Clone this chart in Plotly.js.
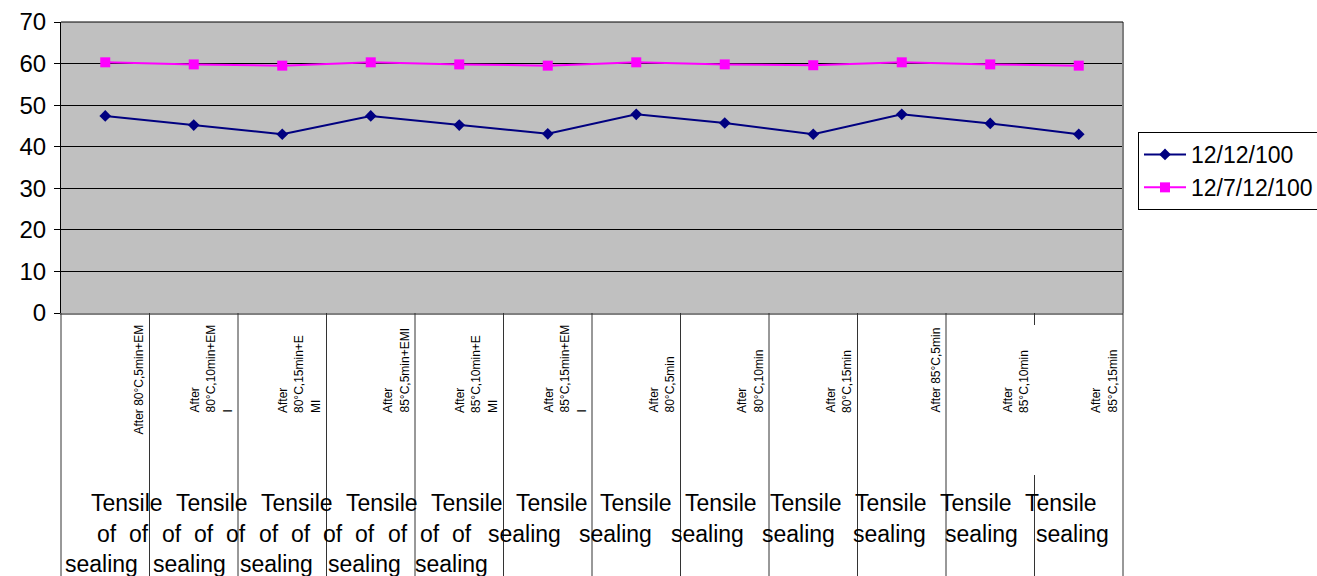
<!DOCTYPE html>
<html>
<head>
<meta charset="utf-8">
<script src="https://cdn.plot.ly/plotly-3.0.1.min.js"></script>
<style>html,body{margin:0;padding:0;background:#fff}#chart{width:1317px;height:576px}</style>
</head>
<body>
<div id="chart"></div>
<script>
// ---- data ----
const seriesNames = ["12/12/100", "12/7/12/100"];
const categoryLines = [
  ["After 80°C,5min+EM"],
  ["After", "80°C,10min+EM", "I"],
  ["After", "80°C,15min+E", "MI"],
  ["After", "85°C,5min+EMI"],
  ["After", "85°C,10min+E", "MI"],
  ["After", "85°C,15min+EM", "I"],
  ["After", "80°C,5min"],
  ["After", "80°C,10min"],
  ["After", "80°C,15min"],
  ["After 85°C,5min"],
  ["After", "85°C,10min"],
  ["After", "85°C,15min"]
];
const values1 = [47.4, 45.2, 43.0, 47.4, 45.2, 43.1, 47.8, 45.7, 43.0, 47.8, 45.6, 43.0];
const values2 = [60.3, 59.8, 59.5, 60.3, 59.8, 59.5, 60.3, 59.8, 59.6, 60.3, 59.8, 59.5];
const outerRow1 = ["Tensile","Tensile","Tensile","Tensile","Tensile","Tensile","Tensile","Tensile","Tensile","Tensile","Tensile","Tensile"];
const outerRow2a = ["of","of","of","of","of","of","of","of","of","of","of","of"];
const outerRow2b = ["sealing","sealing","sealing","sealing","sealing","sealing","sealing"];
const outerRow3 = ["sealing","sealing","sealing","sealing","sealing"];
const yTicks = [0, 10, 20, 30, 40, 50, 60, 70];

// ---- layout helpers ----
const W = 1317, H = 576, L = 61, R = 1123, T = 22, B = 313;
const fx = p => (p - L) / (R - L);
const fy = p => (B - p) / (B - T);
const catW = (R - L) / categoryLines.length;
const categories = categoryLines.map(l => l.join(" "));
const FONT = "Liberation Sans, Arial, Helvetica, sans-serif";

const traces = [
  {x: categories, y: values1, name: seriesNames[0], type: "scatter", mode: "lines+markers",
   line: {color: "#000080", width: 2}, marker: {symbol: "diamond", size: 9, color: "#000080"}},
  {x: categories, y: values2, name: seriesNames[1], type: "scatter", mode: "lines+markers",
   line: {color: "#FF00FF", width: 2}, marker: {symbol: "square", size: 10, color: "#FF00FF"}}
];

const annotations = [];
categoryLines.forEach((lines, i) => {
  const right = L + (i + 1) * catW;
  const n = lines.length;
  const bottom = (i === 0) ? 437 : 415;
  lines.forEach((t, j) => {
    annotations.push({xref: "paper", yref: "paper", x: fx(right - 11 - (n - 1 - j) * 16.5), y: fy(bottom),
      xanchor: "center", yanchor: "bottom", textangle: -90, text: t, showarrow: false,
      font: {family: FONT, size: 12, color: "#000"}});
  });
});
function row(words, start, step, cy) {
  words.forEach((w, k) => {
    annotations.push({xref: "paper", yref: "paper", x: fx(start + k * step), y: fy(cy),
      xanchor: "left", yanchor: "middle", text: w, showarrow: false,
      font: {family: FONT, size: 23, color: "#000"}});
  });
}
row(outerRow1, 89, 84.9, 503);
row(outerRow2a, 95, 32.3, 534);
row(outerRow2b, 486, 91.3, 534);
row(outerRow3, 63, 87.5, 564);

const shapes = [];
for (let i = 0; i <= categoryLines.length; i++) {
  const px = L + i * catW;
  if (i === 11) {
    shapes.push({type: "line", xref: "paper", yref: "paper", x0: fx(px), x1: fx(px), y0: 0, y1: fy(325), line: {color: "#333", width: 1}});
    shapes.push({type: "line", xref: "paper", yref: "paper", x0: fx(px), x1: fx(px), y0: fy(475), y1: fy(H), line: {color: "#333", width: 1}});
  } else {
    shapes.push({type: "line", xref: "paper", yref: "paper", x0: fx(px), x1: fx(px), y0: 0, y1: fy(H), line: {color: "#333", width: 1}});
  }
}
shapes.push({type: "line", xref: "paper", yref: "paper", x0: 1, x1: 1, y0: 0, y1: 1, line: {color: "#808080", width: 2}});
shapes.push({type: "line", xref: "paper", yref: "paper", x0: 0, x1: 1, y0: 1, y1: 1, line: {color: "#000", width: 1}});

const layout = {
  width: W, height: H,
  margin: {l: L, r: W - R, t: T, b: H - B, pad: 0, autoexpand: false},
  paper_bgcolor: "#fff", plot_bgcolor: "#C0C0C0",
  font: {family: FONT, color: "#000"},
  showlegend: true,
  legend: {x: fx(1138), y: fy(132), xanchor: "left", yanchor: "top", bgcolor: "#fff",
    bordercolor: "#000", borderwidth: 1, itemwidth: 42, font: {family: FONT, size: 23, color: "#000"}},
  xaxis: {type: "category", categoryorder: "array", categoryarray: categories, range: [-0.5, 11.5],
    showticklabels: false, ticks: "", showgrid: false, zeroline: false,
    showline: true, linecolor: "#808080", linewidth: 2},
  yaxis: {range: [0, 70], tickvals: yTicks, showgrid: true, gridcolor: "#000", gridwidth: 1,
    zeroline: false, showline: true, linecolor: "#000", linewidth: 1,
    ticks: "outside", ticklen: 6, tickcolor: "#000", ticklabelstandoff: 3,
    tickfont: {family: FONT, size: 24, color: "#000"}},
  annotations: annotations,
  shapes: shapes
};

Plotly.newPlot("chart", traces, layout, {displayModeBar: false, staticPlot: true});
</script>
</body>
</html>
